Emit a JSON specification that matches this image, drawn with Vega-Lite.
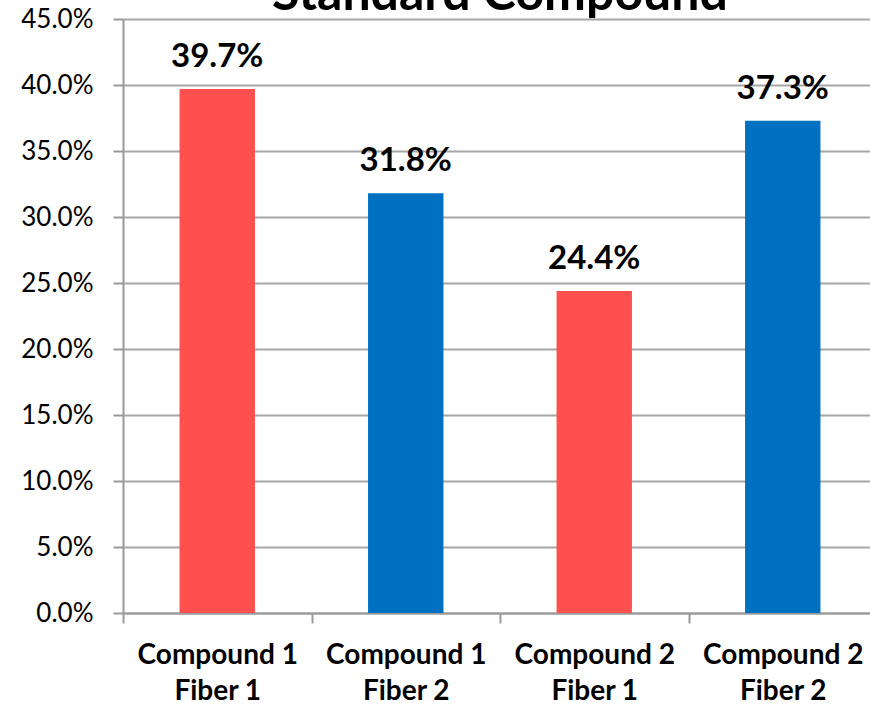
{
  "$schema": "https://vega.github.io/schema/vega-lite/v6.json",
  "autosize": {"type": "none"},
  "padding": {"left": 123, "top": 19, "right": 0, "bottom": 93},
  "width": 754,
  "height": 594,
  "background": "white",
  "config": {"font": "Lato", "view": {"stroke": null}},
  "title": {"text": "Standard Compound", "fontSize": 50, "fontWeight": "bold", "color": "#000000", "font": "Lato", "anchor": "middle", "baseline": "alphabetic", "offset": 0, "dy": 54},
  "data": {"values": [
    {"group": "Compound 1 Fiber 1", "value": 0.397, "fiber": "Fiber 1"},
    {"group": "Compound 1 Fiber 2", "value": 0.318, "fiber": "Fiber 2"},
    {"group": "Compound 2 Fiber 1", "value": 0.244, "fiber": "Fiber 1"},
    {"group": "Compound 2 Fiber 2", "value": 0.373, "fiber": "Fiber 2"}
  ]},
  "encoding": {
    "x": {"field": "group", "type": "nominal", "sort": null, "scale": {"paddingInner": 0, "paddingOuter": 0},
      "axis": {"title": null, "labelAngle": 0, "tickBand": "extent", "grid": false, "domainColor": "#999999", "domainWidth": 2, "tickColor": "#999999", "tickWidth": 2, "tickSize": 10,
        "labelExpr": "[slice(datum.label,0,10), slice(datum.label,11)]", "labelFontSize": 28, "labelFontWeight": "bold", "labelColor": "#000000", "labelLineHeight": 36, "labelPadding": 18, "labelBaseline": "top"}},
    "y": {"field": "value", "type": "quantitative", "scale": {"domain": [0, 0.45], "nice": false},
      "axis": {"title": null, "format": ".1%", "values": [0, 0.05, 0.1, 0.15, 0.2, 0.25, 0.3, 0.35, 0.4, 0.45], "gridColor": "#A6A6A6", "gridWidth": 2, "domainColor": "#999999", "domainWidth": 2, "tickColor": "#999999", "tickWidth": 2, "tickSize": 10, "labelPadding": 20, "labelFontSize": 26, "labelColor": "#000000"}}
  },
  "layer": [
    {"mark": {"type": "bar", "width": {"band": 0.4}},
     "encoding": {"color": {"field": "fiber", "type": "nominal", "scale": {"domain": ["Fiber 1", "Fiber 2"], "range": ["#FF5050", "#0070C0"]}, "legend": null}}},
    {"mark": {"type": "text", "baseline": "alphabetic", "dy": -22, "fontSize": 33, "fontWeight": "bold", "color": "#000000"},
     "encoding": {"text": {"field": "value", "type": "quantitative", "format": ".1%"}}}
  ]
}
